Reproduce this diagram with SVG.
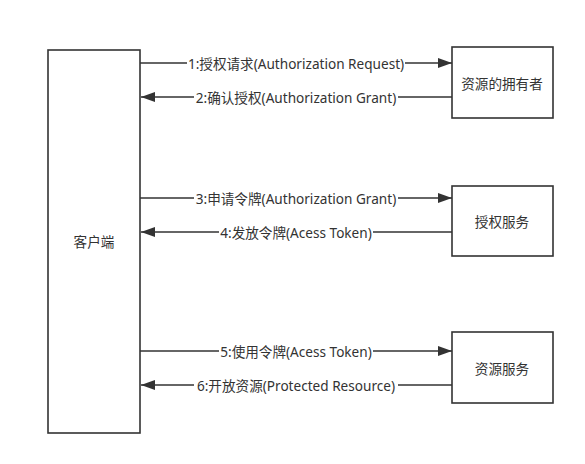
<svg xmlns="http://www.w3.org/2000/svg" width="585" height="464" viewBox="0 0 585 464">
<style>
.box{fill:#fff;stroke:#333;stroke-width:1.6}
.t{font-family:"Noto Sans","Noto Sans CJK SC",sans-serif;font-size:13.6px;fill:#333;text-anchor:middle;dominant-baseline:central}
.ln{stroke:#333;stroke-width:1.6;fill:none}
.bg{fill:#fff}
</style>
<defs>
<marker id="ah" viewBox="0 0 14 10" refX="14" refY="5" markerWidth="14" markerHeight="10" markerUnits="userSpaceOnUse" orient="auto">
<path d="M0,0 L14,5 L0,10 Z" fill="#333"/>
</marker>
</defs>
<rect width="585" height="464" fill="#fff"/>
<g id="client"><rect class="box" x="48" y="50" width="92" height="383"/><text class="t" x="94" y="241">客户端</text></g>
<g id="owner"><rect class="box" x="452" y="47" width="101" height="71"/><text class="t" x="502" y="83">资源的拥有者</text></g>
<g id="auth"><rect class="box" x="452" y="186" width="101" height="70"/><text class="t" x="502" y="221">授权服务</text></g>
<g id="resource"><rect class="box" x="452" y="332" width="101" height="71"/><text class="t" x="502" y="368">资源服务</text></g>
<g id="connectors">
<line class="ln" x1="140" y1="63" x2="452" y2="63" marker-end="url(#ah)"/>
<rect class="bg" x="187" y="55" width="218" height="16"/>
<text class="t" x="296" y="63">1:授权请求(Authorization Request)</text>
<line class="ln" x1="452" y1="97" x2="141" y2="97" marker-end="url(#ah)"/>
<rect class="bg" x="194" y="89" width="204" height="16"/>
<text class="t" x="296" y="97">2:确认授权(Authorization Grant)</text>
<line class="ln" x1="140" y1="198" x2="452" y2="198" marker-end="url(#ah)"/>
<rect class="bg" x="194" y="190" width="204" height="16"/>
<text class="t" x="296" y="198">3:申请令牌(Authorization Grant)</text>
<line class="ln" x1="452" y1="232" x2="141" y2="232" marker-end="url(#ah)"/>
<rect class="bg" x="219" y="224" width="154" height="16"/>
<text class="t" x="296" y="232">4:发放令牌(Acess Token)</text>
<line class="ln" x1="140" y1="351" x2="452" y2="351" marker-end="url(#ah)"/>
<rect class="bg" x="219" y="343" width="154" height="16"/>
<text class="t" x="296" y="351">5:使用令牌(Acess Token)</text>
<line class="ln" x1="452" y1="385" x2="141" y2="385" marker-end="url(#ah)"/>
<rect class="bg" x="194" y="377" width="204" height="16"/>
<text class="t" x="296" y="385">6:开放资源(Protected Resource)</text>
</g>
</svg>
